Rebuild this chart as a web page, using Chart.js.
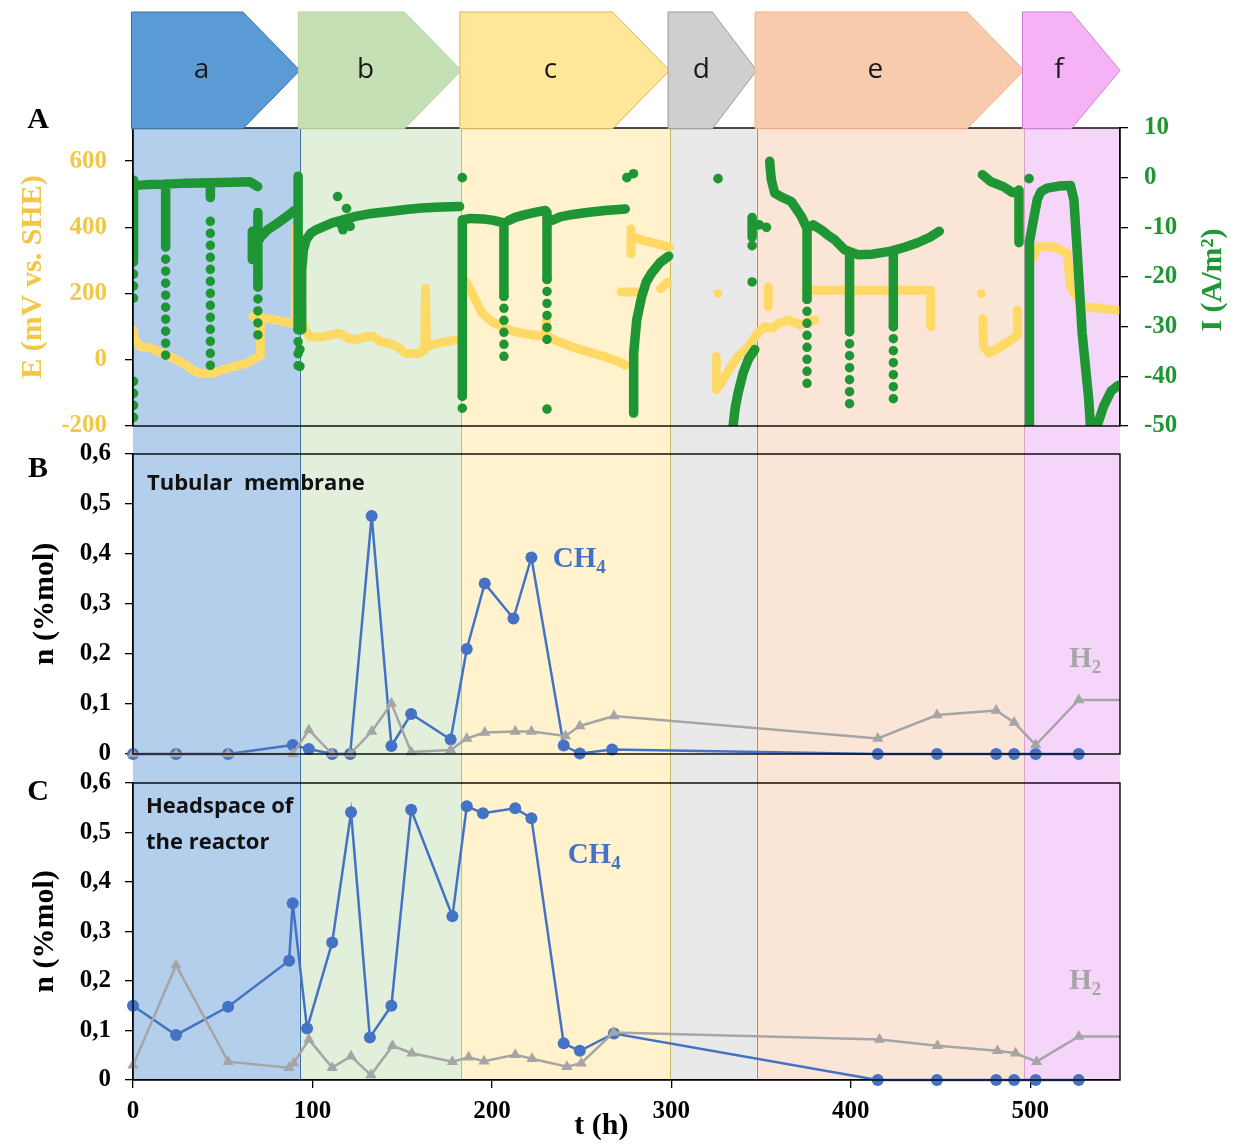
<!DOCTYPE html>
<html>
<head>
<meta charset="utf-8">
<script src="https://cdn.jsdelivr.net/npm/chart.js@4.4.1/dist/chart.umd.min.js"></script>
<style>
  body { margin: 0; background: #fff; }
  #wrap { position: relative; width: 1237px; height: 1144px; }
  #wrap canvas { position: absolute; left: 0; top: 0; }
</style>
</head>
<body>
<div id="wrap">
  <canvas id="chartA" width="1237" height="1144"></canvas>
  <canvas id="chartB" width="1237" height="1144"></canvas>
  <canvas id="chartC" width="1237" height="1144"></canvas>
</div>
<script>
// ---- phases (h) ----
const phaseNames = ['a', 'b', 'c', 'd', 'e', 'f'];
const phaseStart = [0, 93, 183, 299, 347.5, 496.5];
const phaseEnd = [93, 183, 299, 347.5, 496.5, 550];

// ---- panel B: tubular membrane (%mol) ----
const tubeCh4T = [0, 24, 53, 89, 98, 111, 121, 133, 144, 155, 177, 186, 196, 212, 222, 240, 249, 267, 415, 448, 481, 491, 503, 527];
const tubeCh4 = [0, 0, 0, 0.018, 0.01, 0, 0, 0.476, 0.016, 0.08, 0.029, 0.21, 0.341, 0.271, 0.393, 0.017, 0.001, 0.009, 0, 0, 0, 0, 0, 0];
const tubeH2T = [0, 24, 53, 89, 98, 111, 121, 133, 144, 155, 177, 186, 196, 213, 222, 241, 249, 268, 415, 448, 481, 491, 503, 527, 560];
const tubeH2 = [0, 0, 0, 0, 0.048, 0, 0, 0.045, 0.101, 0.004, 0.008, 0.031, 0.043, 0.045, 0.045, 0.036, 0.056, 0.076, 0.031, 0.078, 0.087, 0.063, 0.018, 0.108, 0.108];

// ---- panel C: headspace of the reactor (%mol) ----
const headCh4T = [0, 24, 53, 87, 89, 97, 111, 121.5, 132, 144, 155, 178, 186, 195, 213, 222, 240, 249, 268, 415, 448, 481, 491, 503, 527];
const headCh4 = [0.150, 0.091, 0.148, 0.241, 0.357, 0.104, 0.278, 0.541, 0.086, 0.150, 0.546, 0.331, 0.553, 0.539, 0.549, 0.529, 0.074, 0.059, 0.094, 0, 0, 0, 0, 0, 0];
const headH2T = [0, 24, 53, 87, 89.6, 98, 111, 121.5, 132.6, 144.6, 155.4, 178, 187, 195.6, 213, 222.4, 241.8, 249.8, 267.8, 416, 448.3, 481.7, 491.8, 503.5, 527, 560];
const headH2 = [0.030, 0.232, 0.037, 0.025, 0.034, 0.082, 0.025, 0.048, 0.010, 0.069, 0.054, 0.037, 0.046, 0.038, 0.051, 0.043, 0.027, 0.034, 0.096, 0.082, 0.069, 0.059, 0.054, 0.037, 0.088, 0.088];

// ---- panel A: current I (A/m2), continuous runs [t, I] ----
const currentRuns = [
  [[0.5, -1.6], [8, -1.4], [18, -1.3], [30, -1.1], [43, -1.0], [55, -0.9], [65, -0.8], [69.5, -1.8]],
  [[0.3, -0.5], [0.3, -16.5]],
  [[18.2, -1.3], [18.2, -13.8]],
  [[43.1, -1.0], [43.1, -4]],
  [[66.5, -10.8], [66.5, -16.5]],
  [[69.6, -7], [69.6, -22]],
  [[68, -14], [71, -12], [75, -10.5], [80, -9.3], [85, -8], [90, -6.6]],
  [[92, 0.3], [92, -30.6]],
  [[93.7, -30.6], [94, -18.5], [95, -14.5], [96.5, -12.5], [99, -11.2], [102, -10.5], [111, -9.1], [117, -8.5], [124, -7.8], [133, -7.2], [143, -6.8], [152, -6.4], [161, -6.1], [172, -5.9], [182, -5.8]],
  [[183.5, -8.5], [183.5, -44]],
  [[183.5, -8.5], [188, -8.2], [195, -8.3], [201, -8.6], [206.7, -9.1]],
  [[206.7, -9.1], [206.7, -23.9]],
  [[209.4, -8.6], [213, -8], [218, -7.5], [224, -7], [229.8, -6.6]],
  [[230.7, -7], [230.7, -20.5]],
  [[233.5, -8.6], [238, -7.9], [245, -7.4], [253, -7], [263, -6.6], [274.3, -6.3]],
  [[278.9, -47.4], [279, -35.3], [280.7, -28.6], [283.5, -23.9], [286, -21], [289, -19.2], [294, -17], [298.5, -15.8]],
  [[345, -8], [345, -12]],
  [[334.4, -50], [335.5, -46.5], [337.2, -43.3], [340, -39.3], [343, -36.5], [346.5, -34.6]],
  [[354.8, 3.3], [355.2, 1.5], [355.7, -0.4], [357.6, -3.1], [362, -4], [366.8, -4.8], [370, -6.5], [372.4, -7.8], [375.6, -10.2], [379, -9.5], [383.5, -10.5], [387, -11.5], [391, -12.5], [396.5, -14.5], [403.9, -15.5], [412, -15.4], [422.4, -14.8], [430, -14], [437.2, -13.1], [444, -12], [449.3, -10.8]],
  [[375.6, -10.2], [375.6, -24.5]],
  [[399.3, -15], [399.3, -31]],
  [[423.7, -14.8], [423.7, -30]],
  [[473.3, 0.6], [478, -0.8], [485, -1.8], [490, -3], [492.8, -2.8]],
  [[493.7, -2.5], [493.7, -13.1]],
  [[499.3, -50], [499.3, -17.9], [499.8, -13], [501.1, -9.8], [503.9, -4.4], [506, -2.8], [509.4, -2.1], [516, -1.7], [522.4, -1.6], [524.3, -4.4], [526.1, -14.5], [528.9, -31.3], [532.6, -44.7], [533.5, -50], [537.2, -50], [540.9, -46], [545, -43], [548.3, -42], [552, -41.5]]
];
// sparse vertical drops of the current: [t, from I, to I]
const currentDrops = [[0.3, -17, -25], [0.3, -41, -50], [18.2, -14, -38], [43.1, -8.8, -40], [69.6, -22, -32], [92, -30.6, -38],
  [183.5, -44, -47.4], [206.7, -23.9, -36.4], [230.7, -20.5, -34.3], [375.6, -24.5, -43.3], [399.3, -31, -46.7], [423.7, -30, -46]];
const currentDots = [[114, -3.8], [116, -9.5], [119, -6.2], [121, -9.8], [117, -10.5], [183.5, 0], [275.2, 0], [278.9, 0.8], [230.7, -46.6],
  [326, -0.2], [349, -9.5], [353, -10], [345, -13.7], [345, -21], [499.3, -0.2], [93, -34.6], [93, -38]];

// ---- panel A: potential E (mV vs SHE) runs [t, E] ----
const potentialRuns = [
  [[0, 90], [1, 60], [3.9, 40], [9.4, 36], [14, 25], [18.7, 14], [24, 0], [28, -11], [33, -30], [37.2, -41], [44.6, -41], [50, -30], [55.7, -21], [63.1, -11], [69.6, 9], [71, 12], [71, 130]],
  [[66.8, 130], [70, 128], [74, 125], [80, 120], [89, 110], [90.5, 110], [91, 400], [92.5, 380], [93.5, 120], [96, 90], [98.3, 70], [105, 68], [110, 75], [115, 80], [120, 65], [124, 60], [130, 70], [134, 70], [138, 55], [142.8, 50], [147, 40], [152, 19], [159, 19], [162.5, 30], [163, 215], [163.5, 40], [170, 50], [180, 60], [182, 60]],
  [[183.5, 250], [186, 230], [189, 200], [194.6, 140], [200, 115], [205.7, 100], [211, 88], [216.8, 80], [223, 75], [229.8, 70], [230.3, 120], [230.8, 70], [237, 55], [244.6, 39], [253, 25], [263, 9], [270, -5], [274.3, -16]],
  [[277.5, 320], [277.5, 395]],
  [[277.5, 372], [285, 360], [292, 350], [299, 340]],
  [[272, 205], [280, 205]],
  [[294, 215], [298, 235]],
  [[325, 10], [325, -90], [328, -70], [332, -30], [337, 10], [343, 40], [348, 80], [352, 100], [356, 95], [360, 110], [365, 120], [372, 105], [376, 115], [380, 120]],
  [[354, 160], [354, 220]],
  [[375, 210], [400, 210], [425, 210], [444.5, 210], [444.5, 100]],
  [[473.5, 125], [474, 40], [477, 20], [482, 35], [488, 55], [493, 75]],
  [[492.8, 150], [492.8, 80]],
  [[502, 311], [504, 341], [513, 341], [520.5, 322], [522.4, 220], [529.8, 160], [540, 155], [548.3, 150], [552, 150]]
];
const potentialDots = [[326, 200], [472.7, 200]];

// ---- styles ----
const GREEN = '#1e9634';
const YELLOW = '#ffd966';
const YELLOW_TXT = '#f2c744';
const BLUE = '#4472c4';
const GRAY = '#a5a5a5';
const bandFill = ['#b4cfeb', '#e2efda', '#fff2cc', '#e9e9e9', '#fbe5d6', '#f6d5fa'];
const arrowFill = ['#5b9bd5', '#c5e0b4', '#ffe699', '#d0cece', '#f8cbad', '#f5b2f5'];
const arrowStroke = ['#41719c', '#b3d39c', '#d6b656', '#9a9a9a', '#f4b183', '#d37dd3'];
const boundaryColor = ['#3f6b96', '#aac596', '#c9b560', '#8f8f8f', '#d9a3c4'];
const BAND_BOTTOM = 1080;
const ARROW_TOP = 12;
const SERIF = 'Liberation Serif';

Chart.defaults.font.family = SERIF;
Chart.defaults.animation = false;

function runsToPoints(runs) {
  const pts = [];
  runs.forEach((run, i) => {
    if (i > 0) pts.push({ x: run[0][0], y: null });
    run.forEach(([x, y]) => pts.push({ x, y }));
  });
  return pts;
}
function pairs(xs, ys) {
  return xs.map((x, i) => ({ x, y: ys[i] }));
}
function frame(chart) {
  const { ctx, chartArea: a } = chart;
  ctx.save();
  ctx.strokeStyle = '#000';
  ctx.lineWidth = 1.4;
  ctx.strokeRect(a.left, a.top, a.right - a.left, a.bottom - a.top);
  ctx.restore();
}
function panelLetter(ctx, letter, x, y) {
  ctx.save();
  ctx.font = 'bold 30px ' + SERIF;
  ctx.fillStyle = '#000';
  ctx.textAlign = 'center';
  ctx.textBaseline = 'middle';
  ctx.fillText(letter, x, y);
  ctx.restore();
}
function subLabel(ctx, main, sub, x, y, color) {
  ctx.save();
  ctx.fillStyle = color;
  ctx.textBaseline = 'middle';
  ctx.font = 'bold 29px ' + SERIF;
  ctx.fillText(main, x, y);
  const w = ctx.measureText(main).width;
  ctx.font = 'bold 19px ' + SERIF;
  ctx.fillText(sub, x + w, y + 8);
  ctx.restore();
}

const phasePlugin = {
  id: 'phases',
  beforeDraw(chart) {
    const { ctx, chartArea, scales: { x } } = chart;
    ctx.save();
    phaseStart.forEach((s, i) => {
      const x0 = x.getPixelForValue(s), x1 = x.getPixelForValue(phaseEnd[i]);
      ctx.fillStyle = bandFill[i];
      ctx.fillRect(x0, chartArea.top, x1 - x0, BAND_BOTTOM - chartArea.top);
    });
    ctx.lineWidth = 1;
    phaseEnd.slice(0, -1).forEach((e, i) => {
      const px = Math.round(x.getPixelForValue(e)) + 0.5;
      ctx.strokeStyle = boundaryColor[i];
      ctx.beginPath();
      ctx.moveTo(px, chartArea.top);
      ctx.lineTo(px, BAND_BOTTOM);
      ctx.stroke();
    });
    ctx.restore();
  },
  afterDraw(chart) {
    const { ctx, chartArea, scales: { x, yI } } = chart;
    frame(chart);
    ctx.save();
    const top = ARROW_TOP, bot = chartArea.top + 0.8, mid = (top + bot) / 2;
    phaseStart.forEach((s, i) => {
      const x0 = x.getPixelForValue(s) - 1.5, x1 = x.getPixelForValue(phaseEnd[i]);
      const d = Math.min(57, (x1 - x0) / 2);
      ctx.beginPath();
      ctx.moveTo(x0, top);
      ctx.lineTo(x1 - d, top);
      ctx.lineTo(x1, mid);
      ctx.lineTo(x1 - d, bot);
      ctx.lineTo(x0, bot);
      ctx.closePath();
      ctx.fillStyle = arrowFill[i];
      ctx.fill();
      ctx.strokeStyle = arrowStroke[i];
      ctx.lineWidth = 1;
      ctx.stroke();
      ctx.fillStyle = '#1a1a1a';
      ctx.font = '28px "Open Sans"';
      ctx.textAlign = 'center';
      ctx.textBaseline = 'middle';
      ctx.fillText(phaseNames[i], (x0 + x1 - d / 2) / 2, mid);
    });
    // right axis title, reading bottom to top
    ctx.translate(yI.right - 24, (chartArea.top + chartArea.bottom) / 2 + 3);
    ctx.rotate(-Math.PI / 2);
    ctx.font = 'bold 30px ' + SERIF;
    ctx.fillStyle = GREEN;
    ctx.textAlign = 'center';
    ctx.textBaseline = 'middle';
    ctx.fillText('I (A/m²)', 0, 0);
    ctx.restore();
    panelLetter(ctx, 'A', 38, 120);
  }
};

function gasPlugin(letter, letterY, notes) {
  return {
    id: 'gas' + letter,
    afterDraw(chart) {
      const { ctx, scales: { x, y } } = chart;
      frame(chart);
      panelLetter(ctx, letter, 38, letterY);
      ctx.save();
      ctx.font = 'bold 22px "Open Sans"';
      ctx.fillStyle = '#111';
      ctx.textBaseline = 'middle';
      notes.text.forEach(([t, n, s]) => ctx.fillText(s, x.getPixelForValue(t), y.getPixelForValue(n)));
      ctx.restore();
      subLabel(ctx, 'CH', '4', x.getPixelForValue(notes.ch4[0]), y.getPixelForValue(notes.ch4[1]), BLUE);
      subLabel(ctx, 'H', '2', x.getPixelForValue(notes.h2[0]), y.getPixelForValue(notes.h2[1]), GRAY);
    }
  };
}

const tickFont = { family: SERIF, weight: 'bold', size: 25 };
const titleFont = { family: SERIF, weight: 'bold', size: 30, lineHeight: 1.2 };
const tickGrid = { display: true, drawOnChartArea: false, drawTicks: true, tickLength: 8, color: '#000', lineWidth: 1.3 };
const axisBorder = { display: true, color: '#000', width: 1.3 };

// ---------- panel A ----------
new Chart(document.getElementById('chartA'), {
  type: 'line',
  data: {
    datasets: [
      { data: runsToPoints(currentRuns), yAxisID: 'yI', borderColor: GREEN, borderWidth: 9.5, pointRadius: 0,
        borderCapStyle: 'round', borderJoinStyle: 'round', spanGaps: false },
      { data: runsToPoints(currentDrops.map(([t, a, b]) => [[t, a], [t, b]])), yAxisID: 'yI', borderColor: GREEN,
        borderWidth: 9.5, borderDash: [0, 12], borderCapStyle: 'round', pointRadius: 0, spanGaps: false },
      { data: currentDots.map(([x, y]) => ({ x, y })), yAxisID: 'yI', showLine: false, pointRadius: 4.8,
        pointBackgroundColor: GREEN, pointBorderWidth: 0 },
      { data: runsToPoints(potentialRuns), yAxisID: 'yE', borderColor: YELLOW, borderWidth: 9, pointRadius: 0,
        borderCapStyle: 'round', borderJoinStyle: 'round', spanGaps: false },
      { data: potentialDots.map(([x, y]) => ({ x, y })), yAxisID: 'yE', showLine: false, pointRadius: 4.5,
        pointBackgroundColor: YELLOW, pointBorderWidth: 0 }
    ]
  },
  options: {
    responsive: false,
    events: [],
    layout: { padding: { top: 128, bottom: 1144 - 426, left: 0, right: 0 } },
    plugins: { legend: { display: false }, tooltip: { enabled: false } },
    scales: {
      x: { type: 'linear', min: 0, max: 550, display: false },
      yE: {
        type: 'linear', position: 'left', min: -200, max: 700,
        ticks: { stepSize: 200, color: YELLOW_TXT, font: tickFont, padding: 18 },
        afterBuildTicks: s => { s.ticks = s.ticks.filter(t => t.value <= 600); },
        afterFit: s => { s.width = 133; },
        title: { display: true, text: 'E (mV vs. SHE)', color: YELLOW_TXT, font: titleFont, padding: { top: 15, bottom: 0 } },
        grid: tickGrid, border: axisBorder
      },
      yI: {
        type: 'linear', position: 'right', min: -50, max: 10,
        ticks: { stepSize: 10, color: GREEN, font: tickFont, padding: 16 },
        afterFit: s => { s.width = 1237 - 1120; },
        grid: tickGrid, border: axisBorder
      }
    }
  },
  plugins: [phasePlugin]
});

// ---------- panels B and C ----------
function gasChart(id, padTop, padBottom, h2T, h2, ch4T, ch4, showX, plugin) {
  const clip = { left: false, top: false, right: 0, bottom: false };
  return new Chart(document.getElementById(id), {
    type: 'line',
    data: {
      datasets: [
        { data: pairs(h2T, h2), borderColor: GRAY, backgroundColor: GRAY, borderWidth: 2.5, pointStyle: 'triangle',
          pointRadius: 6.5, pointBorderWidth: 0, clip },
        { data: pairs(ch4T, ch4), borderColor: BLUE, backgroundColor: BLUE, borderWidth: 2.5, pointRadius: 6,
          pointBorderWidth: 0, clip }
      ]
    },
    options: {
      responsive: false,
      events: [],
      layout: { padding: { top: padTop, bottom: padBottom, left: 0, right: 1237 - 1120 } },
      plugins: { legend: { display: false }, tooltip: { enabled: false } },
      scales: {
        x: showX ? {
          type: 'linear', min: 0, max: 550,
          ticks: { stepSize: 100, color: '#000', font: tickFont, padding: 9, maxRotation: 0 },
          afterBuildTicks: s => { s.ticks = s.ticks.filter(t => t.value % 100 === 0); },
          afterFit: s => { s.height = 1144 - 1080; },
          grid: tickGrid, border: axisBorder
        } : { type: 'linear', min: 0, max: 550, display: false },
        y: {
          type: 'linear', min: 0, max: 0.6,
          ticks: { stepSize: 0.1, color: '#000', font: tickFont, padding: 14,
            callback: v => (v === 0 ? '0' : v.toFixed(1).replace('.', ',')) },
          afterFit: s => { s.width = 133; },
          title: { display: true, text: 'n (%mol)', color: '#000', font: titleFont, padding: { top: 27, bottom: 0 } },
          grid: tickGrid, border: axisBorder
        }
      }
    },
    plugins: [plugin]
  });
}

gasChart('chartB', 454, 1144 - 754, tubeH2T, tubeH2, tubeCh4T, tubeCh4, false,
  gasPlugin('B', 469, { text: [[7.8, 0.54, 'Tubular  membrane']], ch4: [233.9, 0.388], h2: [521.7, 0.188] }));

const cPlugin = gasPlugin('C', 792, {
  text: [[7.2, 0.5515, 'Headspace of'], [7.2, 0.479, 'the reactor']],
  ch4: [242.2, 0.4525], h2: [521.7, 0.198]
});
const cPluginWithTitle = {
  id: 'gasCTitle',
  afterDraw(chart) {
    cPlugin.afterDraw(chart);
    const { ctx, scales: { x } } = chart;
    ctx.save();
    ctx.font = 'bold 30px ' + SERIF;
    ctx.fillStyle = '#000';
    ctx.textAlign = 'center';
    ctx.textBaseline = 'middle';
    ctx.fillText('t (h)', x.getPixelForValue(261), 1126);
    ctx.restore();
  }
};
gasChart('chartC', 783, 0, headH2T, headH2, headCh4T, headCh4, true, cPluginWithTitle);
</script>
</body>
</html>
